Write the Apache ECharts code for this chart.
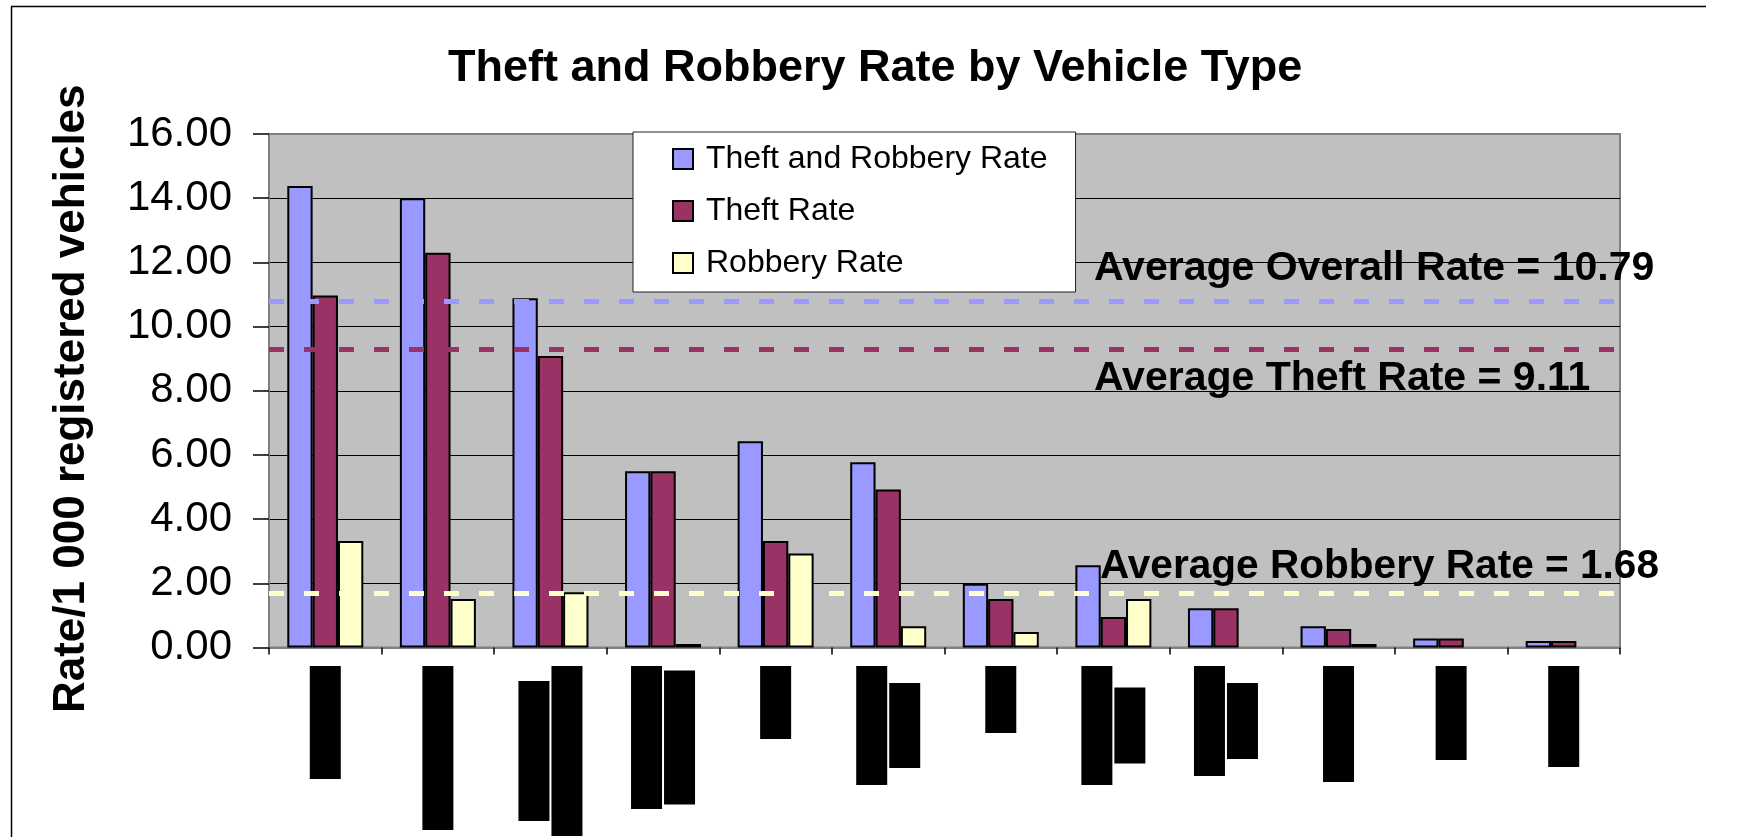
<!DOCTYPE html>
<html>
<head>
<meta charset="utf-8">
<script src="https://cdn.jsdelivr.net/npm/echarts@6/dist/echarts.min.js"></script>
<style>
html,body{margin:0;padding:0;background:#fff;}
#chart{width:1739px;height:837px;}
</style>
</head>
<body>
<div id="chart"></div>
<script>
// ---- data ----
// category names are redacted (blacked out) in the reference
const categories = ['Vehicle type 1','Vehicle type 2','Vehicle type 3','Vehicle type 4','Vehicle type 5','Vehicle type 6',
                    'Vehicle type 7','Vehicle type 8','Vehicle type 9','Vehicle type 10','Vehicle type 11','Vehicle type 12'];
const theftAndRobberyRate = [14.38, 14.00, 10.88, 5.49, 6.43, 5.77, 1.99, 2.56, 1.22, 0.66, 0.28, 0.20];
const theftRate           = [10.97, 12.30,  9.08, 5.49, 3.32, 4.92, 1.51, 0.95, 1.22, 0.58, 0.28, 0.20];
const robberyRate         = [ 3.32,  1.51,  1.72, 0.11, 2.93, 0.66, 0.48, 1.51, 0.00, 0.11, 0.00, 0.00];
const seriesNames = ['Theft and Robbery Rate', 'Theft Rate', 'Robbery Rate'];
const yMin = 0, yMax = 16, yStep = 2;
const averageLabels = ['Average Overall Rate = 10.79', 'Average Theft Rate = 9.11', 'Average Robbery Rate = 1.68'];
// levels at which the dashed average lines are drawn in the picture
const averageLineLevels = [10.79, 9.3, 1.68];

// ---- layout / style (not data) ----
const FONT = "'Liberation Sans', Arial, Helvetica, sans-serif";
const colors = ['#9999FF', '#993366', '#FFFFCC'];
// length in px of each blacked-out line of the rotated category labels
const redactedLabelLengths = [[113],[164],[140,170],[143,134],[73],[119,85],[67],[119,76],[110,76],[116],[94],[101]];

const rich = {};
redactedLabelLengths.forEach(function (arr) {
  arr.forEach(function (L) {
    rich['r' + L] = {width: L, height: 31, lineHeight: 33, backgroundColor: '#000', color: '#000',
                     fontSize: 8, fontFamily: FONT, align: 'center'};
  });
});

const chart = echarts.init(document.getElementById('chart'), null, {renderer: 'canvas'});

function mkSeries(i, data, lineLevel) {
  return {
    name: seriesNames[i],
    type: 'bar',
    // zero values show no bar at all in the reference
    data: data.map(function (v) { return v === 0 ? '-' : v; }),
    barGap: '0%',
    barCategoryGap: '32.5%',
    itemStyle: {color: colors[i], borderColor: '#000', borderWidth: 2},
    emphasis: {disabled: true},
    markLine: {
      silent: true,
      symbol: ['none', 'none'],
      label: {show: false},
      lineStyle: {color: colors[i], type: [15, 20], width: 5},
      emphasis: {disabled: true},
      data: [{yAxis: lineLevel}],
      z: 5
    }
  };
}

const option = {
  animation: false,
  backgroundColor: '#fff',
  textStyle: {fontFamily: FONT},
  title: {
    text: 'Theft and Robbery Rate by Vehicle Type',
    left: 448, top: 46, padding: 0,
    textStyle: {fontSize: 45, fontWeight: 'bold', color: '#000', fontFamily: FONT}
  },
  legend: {
    orient: 'vertical',
    left: 633, top: 132,
    padding: [11, 28, 13, 39],
    itemGap: 20, itemWidth: 20, itemHeight: 20,
    icon: 'rect',
    backgroundColor: '#fff',
    borderColor: '#222', borderWidth: 1,
    selectedMode: false,
    itemStyle: {borderColor: '#000', borderWidth: 2},
    textStyle: {fontSize: 32, color: '#000', fontFamily: FONT, padding: [0, 0, 0, 8]},
    data: seriesNames,
    z: 20
  },
  grid: {
    left: 269, right: 119, top: 134, bottom: 189.5,
    show: true, backgroundColor: '#C0C0C0', borderColor: '#808080', borderWidth: 2,
    containLabel: false,
    outerBoundsMode: 'none'
  },
  xAxis: {
    type: 'category',
    data: categories,
    boundaryGap: true,
    axisLine: {show: true, lineStyle: {color: '#808080', width: 2}},
    axisTick: {show: true, length: 7, alignWithLabel: false, lineStyle: {color: '#000', width: 1.5}},
    axisLabel: {
      interval: 0, rotate: 90, margin: 18.5,
      formatter: function (value, idx) {
        return redactedLabelLengths[idx].map(function (L) { return '{r' + L + '|' + value + '}'; }).join('\n');
      },
      rich: rich
    },
    splitLine: {show: false}
  },
  yAxis: {
    type: 'value',
    min: yMin, max: yMax, interval: yStep,
    name: 'Rate/1 000 registered vehicles',
    nameLocation: 'middle', nameRotate: 90, nameGap: 175,
    nameTextStyle: {fontSize: 44, fontWeight: 'bold', color: '#000', fontFamily: FONT, padding: [0, 16, 0, 0]},
    axisLine: {show: true, lineStyle: {color: '#808080', width: 2}},
    axisTick: {show: true, length: 16, lineStyle: {color: '#000', width: 1.5}},
    axisLabel: {
      margin: 37, fontSize: 42, color: '#000', fontFamily: FONT,
      formatter: function (v) { return v.toFixed(2); }
    },
    splitLine: {show: true, showMinLine: false, showMaxLine: false, lineStyle: {color: '#000', width: 1.2}}
  },
  series: [
    mkSeries(0, theftAndRobberyRate, averageLineLevels[0]),
    mkSeries(1, theftRate, averageLineLevels[1]),
    mkSeries(2, robberyRate, averageLineLevels[2])
  ],
  graphic: [
    {type: 'line', silent: true, shape: {x1: 11.5, y1: 6.5, x2: 11.5, y2: 837}, style: {stroke: '#000', lineWidth: 1.5}},
    {type: 'line', silent: true, shape: {x1: 11, y1: 6.5, x2: 1706, y2: 6.5}, style: {stroke: '#000', lineWidth: 1.5}},
    {type: 'text', silent: true, x: 1094, y: 248, z: 100,
     style: {text: averageLabels[0], fontSize: 41, fontWeight: 'bold', fontFamily: FONT, fill: '#000', verticalAlign: 'top'}},
    {type: 'text', silent: true, x: 1094, y: 358, z: 100,
     style: {text: averageLabels[1], fontSize: 41, fontWeight: 'bold', fontFamily: FONT, fill: '#000', verticalAlign: 'top'}},
    {type: 'text', silent: true, x: 1100, y: 546, z: 100,
     style: {text: averageLabels[2], fontSize: 40.6, fontWeight: 'bold', fontFamily: FONT, fill: '#000', verticalAlign: 'top'}}
  ]
};
chart.setOption(option);
</script>
</body>
</html>
